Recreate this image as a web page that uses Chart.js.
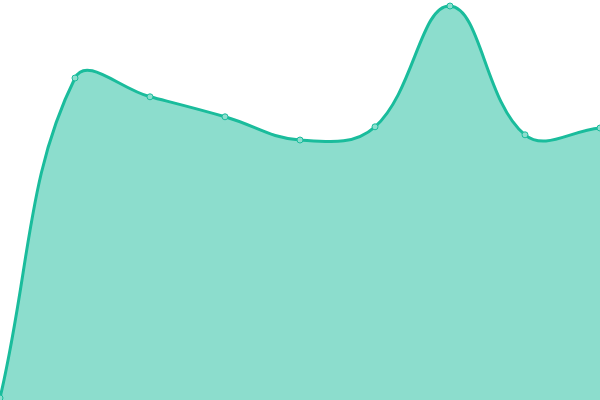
<!DOCTYPE html>
<html>
<head>
<meta charset="utf-8">
<script src="https://cdn.jsdelivr.net/npm/chart.js@4"></script>
<style>
  html, body { margin: 0; padding: 0; background: #fff; }
  #wrap { width: 600px; height: 400px; }
</style>
</head>
<body>
<div id="wrap"><canvas id="areachart"></canvas></div>
<script>
var labels = ['1', '2', '3', '4', '5', '6', '7', '8', '9'];
var values = [0.5, 80.5, 75.8, 70.8, 65, 68.3, 98.5, 66.3, 68];

var ctx = document.getElementById('areachart').getContext('2d');
var myChart = new Chart(ctx, {
    type: 'line',
    data: {
        labels: labels,
        datasets: [{
            data: values,
            fill: true,
            tension: 0.4,
            borderColor: '#1abc9c',
            backgroundColor: 'rgba(26,188,156,0.5)',
            borderWidth: 3,
            pointRadius: 3,
            pointBorderWidth: 1,
            pointBackgroundColor: '#8ddece',
            pointBorderColor: '#1abc9c'
        }]
    },
    options: {
        responsive: true,
        maintainAspectRatio: false,
        animation: false,
        layout: { padding: 0, autoPadding: false },
        plugins: { legend: { display: false }, tooltip: { enabled: false } },
        scales: {
            x: { display: false, offset: false },
            y: { display: false, min: 0, max: 100 }
        }
    }
});
</script>
</body>
</html>
